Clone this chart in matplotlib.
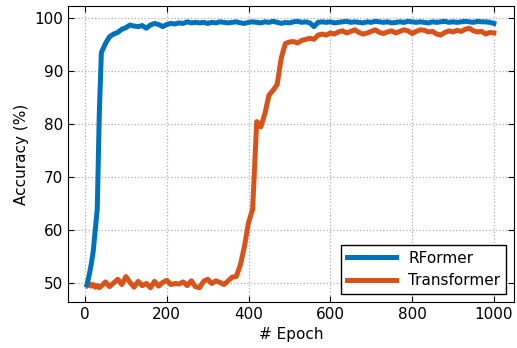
import matplotlib
matplotlib.use("Agg")
import matplotlib.pyplot as plt

epochs = list(range(5, 41, 5)) + list(range(50, 1001, 10))

rformer = [49.8, 51.5, 53.5, 56.0, 60.0, 64.0, 82.0, 93.5,
           95.2, 96.5, 97.0, 97.3, 97.9, 98.2, 98.7, 98.5, 98.4, 98.6,
           98.1, 98.7, 99.0, 98.8, 98.4, 98.8, 99.0, 98.9, 99.1, 99.0,
           99.3, 99.1, 99.2, 99.1, 99.2, 99.0, 99.2, 99.1, 99.3, 99.2,
           99.1, 99.2, 99.3, 99.1, 99.0, 99.2, 99.3, 99.2, 99.1, 99.3,
           99.2, 99.4, 99.2, 99.0, 99.2, 99.1, 99.3, 99.4, 99.2, 99.3,
           99.1, 98.4, 99.2, 99.3, 99.2, 99.3, 99.1, 99.2, 99.3, 99.4,
           99.2, 99.3, 99.2, 99.1, 99.3, 99.2, 99.4, 99.3, 99.2, 99.3,
           99.1, 99.2, 99.3, 99.2, 99.4, 99.3, 99.2, 99.3, 99.2, 99.1,
           99.3, 99.2, 99.3, 99.4, 99.2, 99.3, 99.2, 99.3, 99.4, 99.3,
           99.2, 99.4, 99.3, 99.3, 99.2, 99.0]

transformer = [49.6, 50.0, 49.5, 49.8, 49.3, 49.6, 49.2, 49.5,
               50.3, 49.4, 50.1, 50.8, 49.8, 51.3, 50.2, 49.3, 50.4, 49.6,
               50.0, 49.2, 50.4, 49.5, 50.2, 50.6, 49.8, 50.0, 49.9, 50.3,
               49.6, 50.5, 49.4, 49.2, 50.4, 50.8, 50.0, 50.5, 50.2, 49.8,
               50.5, 51.2, 51.3, 53.5, 57.0, 61.5, 64.0, 80.5, 79.5, 82.0,
               85.5, 86.4, 87.5, 92.5, 95.2, 95.5, 95.6, 95.3, 95.8, 96.0,
               96.2, 96.0, 96.8, 97.0, 96.8, 97.2, 97.0, 97.4, 97.6, 97.2,
               97.5, 97.8, 97.3, 97.0, 97.2, 97.5, 97.8, 97.3, 97.1, 97.4,
               97.6, 97.2, 97.5, 97.8, 97.6, 97.1, 97.5, 97.8, 97.7, 97.4,
               97.5, 97.0, 96.8, 97.3, 97.6, 97.4, 97.7, 97.5, 97.9, 98.1,
               97.6, 97.4, 97.5, 97.0, 97.3, 97.2]

series_names = ["RFormer", "Transformer"]
colors = ["#0072BD", "#D95319"]

fig = plt.figure(figsize=(5.17, 3.48), dpi=100)
ax = fig.add_axes([0.1315, 0.132, 0.8625, 0.851])

ax.plot(epochs, rformer, color=colors[0], lw=3.6, label=series_names[0], zorder=3)
ax.plot(epochs, transformer, color=colors[1], lw=3.6, label=series_names[1], zorder=2)

ax.set_xlim(-41.6, 1049)
ax.set_ylim(46.5, 102.3)
ax.set_xticks([0, 200, 400, 600, 800, 1000])
ax.set_yticks([50, 60, 70, 80, 90, 100])
ax.tick_params(direction="in", top=True, right=True, labelsize=11, length=4)
ax.grid(True, linestyle=":", color="#b0b0b0", lw=0.9)
ax.set_axisbelow(True)
ax.set_xlabel("# Epoch", fontsize=11)
ax.set_ylabel("Accuracy (%)", fontsize=11)

leg = ax.legend(loc="lower right", fontsize=11, fancybox=False, edgecolor="black",
                framealpha=1, handlelength=3.2)
leg.get_frame().set_linewidth(1.0)

fig.savefig("out.png", dpi=100)
